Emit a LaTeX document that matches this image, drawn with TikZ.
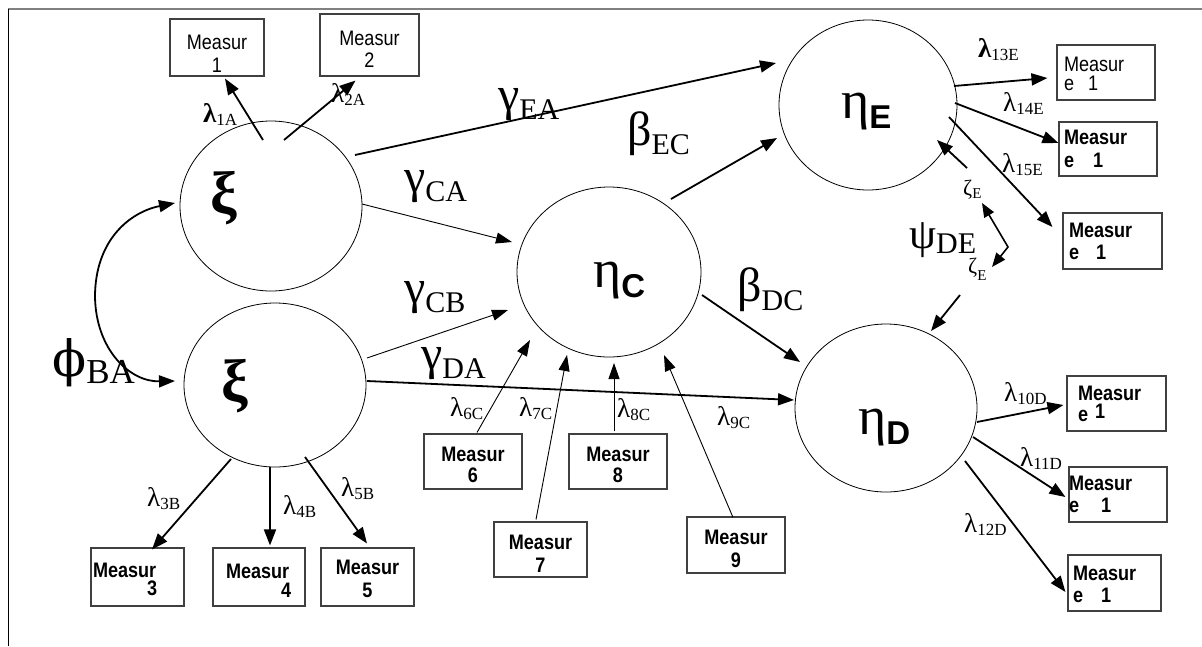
\documentclass[tikz,border=0pt]{standalone}
\usepackage{fontspec}
\setmainfont{Liberation Serif}
\newfontfamily\arialfont{Liberation Sans}
\newfontfamily\boxfont[FakeStretch=0.86]{Liberation Sans}
\newfontfamily\phifont{DejaVu Serif}
\usetikzlibrary{arrows.meta,shapes.geometric,calc}

\definecolor{boxline}{gray}{0.25}
\definecolor{frameline}{gray}{0.5}

% font size helper: size and baselineskip in pt
\newcommand\fsz[1]{\fontsize{#1}{#1}\selectfont}
% symbol with a lowered subscript: {size}{symbol}{sub size}{sub text}{drop}
\newcommand\gsym[5]{{\fsz{#1}#2}\raisebox{-#5pt}{\fsz{#3}#4}}
\newcommand\lam[1]{\gsym{27}{λ}{17}{#1}{3}}
\newcommand\blam[1]{\gsym{27}{\bfseries λ}{17}{#1}{3}}
\newcommand\pcoef[2]{\gsym{48}{#1}{30}{#2}{9}}
\newcommand\latent[1]{\gsym{54}{η}{33}{\arialfont\bfseries #1}{10}}

\begin{document}
\begin{tikzpicture}[x=1pt,y=-1pt,
  lat/.style={ellipse,draw,line width=0.8pt,inner sep=0pt},
  mbox/.style={draw=boxline,line width=1.1pt,inner sep=0pt,
    font=\boxfont\fontsize{21}{#1}\selectfont},
  bmbox/.style={mbox=#1,font=\boxfont\bfseries\fontsize{21}{#1}\selectfont},
  lab/.style={inner sep=0pt,anchor=base west},
  arr/.style={-{Triangle[length=16pt,width=12pt]},line width=1.8pt},
  tarr/.style={-{Triangle[length=16pt,width=11pt]},line width=0.9pt},
  dbl/.style={{Triangle[length=14pt,width=11pt]}-{Triangle[length=14pt,width=11pt]},
    line width=1.6pt,line join=miter},
]
\useasboundingbox (0,0) rectangle (1202,646);

% frame
\draw[frameline,line width=2pt] (8,9) -- (1202,9);
\draw[line width=0.8pt] (8,9) -- (8,646);

% latent variables
\node[lat,minimum width=182pt,minimum height=170pt] (xiA) at (271,206) {};
\node[lat,minimum width=182pt,minimum height=164pt] (xiB) at (275,385) {};
\node[lat,minimum width=184pt,minimum height=170pt] (etaC) at (609,272) {};
\node[lat,minimum width=178pt,minimum height=170pt] (etaE) at (868,105) {};
\node[lat,minimum width=182pt,minimum height=168pt] (etaD) at (886,408) {};

\node[lab] (xiAl) at (210,213) {\fsz{60}\bfseries ξ};
\node[lab] (xiBl) at (221,401) {\fsz{60}\bfseries ξ};
\node[lab] (etaCl) at (593,287) {\latent{C}};
\node[lab] (etaEl) at (841,118) {\latent{E}};
\node[lab] (etaDl) at (858,434) {\latent{D}};

% measurement boxes
\node[mbox=23,minimum width=94pt,minimum height=57pt,align=center] (m1) at (217,47.5)
  {\rule{0pt}{26pt}Measur\\1};
\node[mbox=22,minimum width=99pt,minimum height=62pt,align=center] (m2) at (369.5,45)
  {\rule{0pt}{22pt}Measur\\2};
\node[bmbox=18,minimum width=93pt,minimum height=58pt,text width=89pt,align=left] (m3) at (137.5,577)
  {\rule{0pt}{20pt}Measur\\\hspace*{54pt}3};
\node[bmbox=19,minimum width=92pt,minimum height=58pt,text width=66pt,align=left] (m4) at (259,577)
  {\rule{0pt}{21pt}Measur\\\hspace*{55pt}4};
\node[bmbox=23,minimum width=93pt,minimum height=58pt,align=center] (m5) at (367.5,577)
  {\rule{0pt}{19pt}Measur\\5};
\node[bmbox=21,minimum width=98pt,minimum height=55pt,align=center] (m6) at (473,461.5)
  {\rule{0pt}{22pt}Measur\\6};
\node[bmbox=23,minimum width=93pt,minimum height=55pt,align=center] (m7) at (540.5,549.5)
  {\rule{0pt}{22pt}Measur\\7};
\node[bmbox=21,minimum width=98pt,minimum height=55pt,align=center] (m8) at (618,461.5)
  {\rule{0pt}{22pt}Measur\\8};
\node[bmbox=23,minimum width=98pt,minimum height=56pt,align=center] (m9) at (736,545)
  {\rule{0pt}{23pt}Measur\\9};
\node[bmbox=21,minimum width=99pt,minimum height=55pt,text width=77pt,align=left] (m10) at (1116.5,403.5)
  {\rule{0pt}{13pt}Measur\\e\hspace{7pt}\raisebox{3pt}{1}};
\node[bmbox=22,minimum width=98pt,minimum height=55pt,text width=98pt,align=left] (m11) at (1118,494.5)
  {\rule{0pt}{15pt}Measur\\e\hspace{22pt}1};
\node[bmbox=22,minimum width=93pt,minimum height=56pt,text width=83pt,align=left] (m12) at (1114.5,583)
  {\rule{0pt}{18pt}Measur\\e\hspace{18pt}1};
\node[mbox=19,minimum width=98pt,minimum height=55pt,text width=84pt,align=left] (m13) at (1106,72.5)
  {\rule{0pt}{18pt}Measur\\e\hspace{14pt}1};
\node[bmbox=23,minimum width=98pt,minimum height=54pt,text width=88pt,align=left] (m14) at (1108,149)
  {\rule{0pt}{13pt}Measur\\e\hspace{19pt}1};
\node[bmbox=22,minimum width=99pt,minimum height=56pt,text width=87pt,align=left] (m15) at (1112.5,241)
  {\rule{0pt}{14pt}Measur\\e\hspace{17pt}1};

% disturbance labels
\node[lab] (zE1) at (963,195) {\gsym{22}{ζ}{15}{E}{3}};
\node[lab] (zE2) at (968,273) {\gsym{22}{ζ}{15}{E}{7}};

% structural paths
\draw[arr] ($(xiA)+(84,-51)$) -- ($(etaE)+(-92,-42)$);
\draw[tarr] ($(xiA)+(91,-2)$) -- ($(etaC)+(-97,-30)$);
\draw[tarr] ($(xiB)+(92,-27)$) -- ($(etaC)+(-101,38)$);
\draw[arr] ($(xiB)+(92,-4)$) -- ($(etaD)+(-92,-8)$);
\draw[arr] ($(etaC)+(62,-73)$) -- ($(etaE)+(-91,33)$);
\draw[arr] ($(etaC)+(93,23)$) -- ($(etaD)+(-86,-46)$);

% covariance between the exogenous factors
\coordinate (phimid) at (95,297);
\draw[arr] (phimid) .. controls (95,240) and (130,212) .. ($(xiA)+(-96,-3)$);
\draw[arr] (phimid) .. controls (96,350) and (130,382) .. ($(xiB)+(-100,-4)$);

% loadings
\draw[arr] ($(xiA)+(-8,-66)$) -- ($(m1.south)+(8,2)$);
\draw[arr] ($(xiA)+(13,-66)$) -- ($(m2.south)+(-14,4)$);
\draw[arr] ($(xiB)+(-44,74)$) -- ($(m3.north)+(14.5,2)$);
\draw[arr] ($(xiB)+(-5,82)$) -- ($(m4.north)+(11,-2)$);
\draw[arr] ($(xiB)+(30,72)$) -- ($(m5.north)+(-0.5,-4)$);
\draw[tarr] ($(m6.north)+(4,-1)$) -- ($(etaC)+(-79,68)$);
\draw[tarr] ($(m7.north)+(-4.5,-2)$) -- ($(etaC)+(-42,83)$);
\draw[tarr] ($(m8.north)+(-4,-2)$) -- ($(etaC)+(5,91)$);
\draw[tarr] ($(m9.north)+(-3,1)$) -- ($(etaC)+(55,83)$);
\draw[arr] ($(etaE)+(86,-19)$) -- ($(m13.west)+(-9,5.5)$);
\draw[arr] ($(etaE)+(87,-2)$) -- ($(m14.west)+(0,-6)$);
\draw[arr] ($(etaE)+(81,12)$) -- ($(m15.west)+(-10,-14)$);
\draw[arr] ($(etaD)+(91,14)$) -- ($(m10.west)+(-3,1.5)$);
\draw[arr] ($(etaD)+(87,29)$) -- ($(m11.west)+(-3,2.5)$);
\draw[arr] ($(etaD)+(79,53)$) -- ($(m12.west)+(-2,9)$);

% disturbances
\draw[arr] ($(zE1.base west)+(4,-27)$) -- ($(etaE)+(69,35)$);
\coordinate (psibend) at (1008,247);
\draw[dbl] ($(zE1.base west)+(19,8)$) -- (psibend) -- ($(zE2.base west)+(24,-6)$);
\draw[arr] ($(zE2.base west)+(-8,22)$) -- ($(etaD)+(45,-77)$);

% coefficient labels
\node[lab] (gEA) at (498,110) {\pcoef{γ}{EA}};
\node[lab] (bEC) at (627,145) {\pcoef{β}{EC}};
\node[lab] (gCA) at (404,192) {\pcoef{γ}{CA}};
\node[lab] (gCB) at (404,303) {\pcoef{γ}{CB}};
\node[lab] (gDA) at (421,369) {\pcoef{γ}{DA}};
\node[lab] (bDC) at (737,301) {\pcoef{β}{DC}};
\node[lab] (phiBA) at (52,376) {\gsym{50}{\phifont ϕ}{35}{BA}{7}};
\node[lab] (psiDE) at (909,248) {\gsym{43}{ψ}{30}{DE}{5}};

\node[lab] (l1A) at (203,122) {\blam{1A}};
\node[lab] (l2A) at (331,102) {\lam{2A}};
\node[lab] (l3B) at (147,506) {\lam{3B}};
\node[lab] (l4B) at (283,514) {\lam{4B}};
\node[lab] (l5B) at (341,496) {\lam{5B}};
\node[lab] (l6C) at (450,416) {\lam{6C}};
\node[lab] (l7C) at (519,416) {\lam{7C}};
\node[lab] (l8C) at (617,417) {\lam{8C}};
\node[lab] (l9C) at (717,425) {\lam{9C}};
\node[lab] (l13E) at (978,57) {\blam{13E}};
\node[lab] (l14E) at (1003,111) {\lam{14E}};
\node[lab] (l15E) at (1002,172) {\lam{15E}};
\node[lab] (l10D) at (1004,401) {\lam{10D}};
\node[lab] (l11D) at (1020,466) {\lam{11D}};
\node[lab] (l12D) at (964,532) {\lam{12D}};
\end{tikzpicture}
\end{document}
